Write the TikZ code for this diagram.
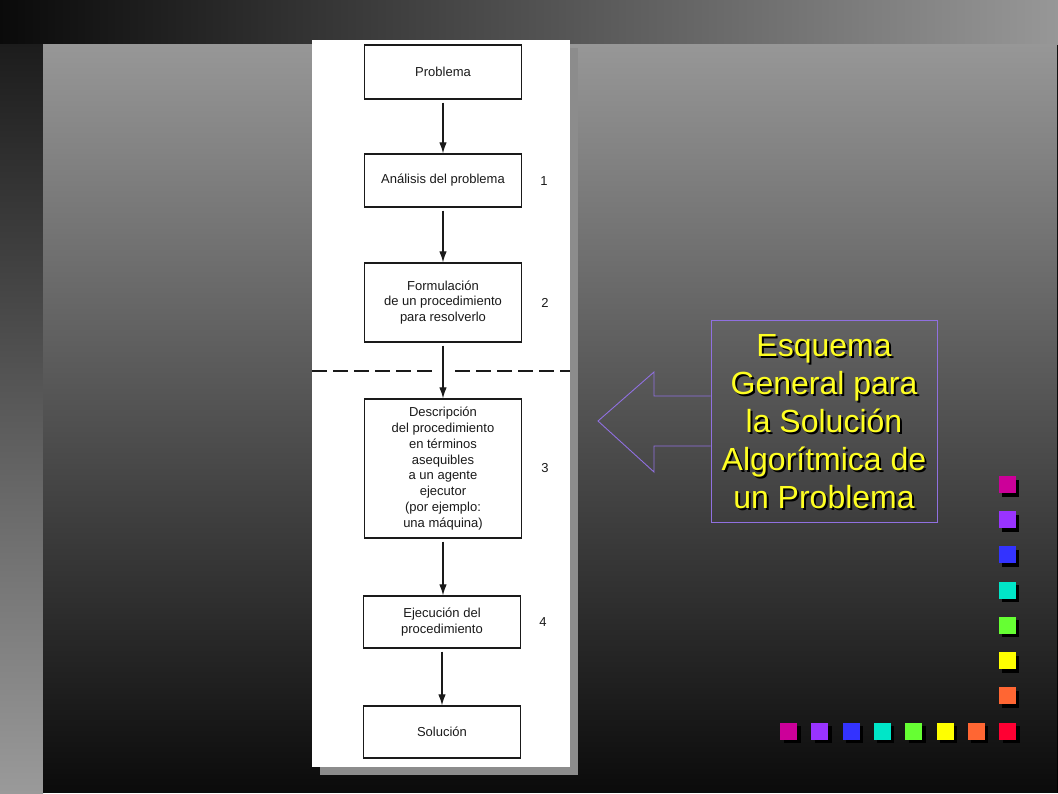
\documentclass[tikz,border=0pt]{standalone}
\usepackage{fontspec}
\setmainfont{Liberation Sans}
\usetikzlibrary{arrows.meta,shadows}
\definecolor{panelTop}{HTML}{979797}
\definecolor{panelBot}{HTML}{0B0B0B}
\definecolor{stripTop}{HTML}{1C1C1C}
\definecolor{stripBot}{HTML}{9A9A9A}
\definecolor{lav}{HTML}{9070E0}
\definecolor{ylw}{HTML}{FFFF22}
\definecolor{pshadow}{HTML}{8C8C8C}
\definecolor{ink}{HTML}{1A1A1A}
\definecolor{sqA}{HTML}{CC0099}
\definecolor{sqB}{HTML}{9933FF}
\definecolor{sqC}{HTML}{3333FF}
\definecolor{sqD}{HTML}{00E6C8}
\definecolor{sqE}{HTML}{66FF33}
\definecolor{sqF}{HTML}{FFFF00}
\definecolor{sqG}{HTML}{FF6633}
\definecolor{sqH}{HTML}{FF0033}
\begin{document}
\begin{tikzpicture}[x=1pt,y=-1pt,
  flowbox/.style={draw=ink, line width=1.3pt, fill=white, minimum width=157pt,
    inner sep=0pt, align=center, text=ink, font=\fontsize{13}{15.8}\selectfont},
  numlbl/.style={font=\fontsize{13}{15}\selectfont, text=ink, inner sep=0pt},
  arr/.style={draw=ink, line width=1.2pt, shorten <=3pt, -{Latex[length=11pt,width=7.5pt]}},
  dashline/.style={draw=ink, line width=1.4pt, dash pattern=on 15pt off 6pt},
  sqr/.style={minimum width=17pt, minimum height=17pt, inner sep=0pt,
    drop shadow={shadow xshift=3.5pt, shadow yshift=-3.5pt, fill=black, opacity=1}},
  titletxt/.style={align=center, inner sep=0pt, font=\fontsize{32}{38}\selectfont}
]
\useasboundingbox (0,0) rectangle (1058,793);
% background
\fill[black] (0,0) rectangle (1058,793);
\shade[left color=black!96, right color=panelTop] (0,0) rectangle (1058,44);
\shade[top color=stripTop, bottom color=stripBot] (0,44) rectangle (43,793);
\shade[top color=panelTop, bottom color=panelBot] (43,44) rectangle (1057,792);
% paper panel with shadow
\fill[pshadow] (320,48) rectangle (578,775);
\fill[white] (312,40) rectangle (570,767);
% flow chart
\node[flowbox, minimum height=54pt] (p0) at (443,72) {Problema};
\node[flowbox, minimum height=53pt] (p1) at (443,180.5) {Análisis del problema};
\node[flowbox, minimum height=79pt] (p2) at (443,302.5) {Formulación\\de un procedimiento\\para resolverlo};
\node[flowbox, minimum height=139pt] (p3) at (443,468.5) {Descripción\\del procedimiento\\en términos\\asequibles\\a un agente\\ejecutor\\(por ejemplo:\\una máquina)};
\node[flowbox, minimum height=52pt] (p4) at (442,622) {Ejecución del\\procedimiento};
\node[flowbox, minimum height=52pt] (p5) at (442,732) {Solución};
\node[numlbl] (n1) at (544,181) {1};
\node[numlbl] (n2) at (545,303) {2};
\node[numlbl] (n3) at (545,468) {3};
\node[numlbl] (n4) at (543,622) {4};
\draw[arr] (p0.south) -- (p0.south |- p1.north);
\draw[arr] (p1.south) -- (p1.south |- p2.north);
\draw[arr] (p2.south) -- (p2.south |- p3.north);
\draw[arr] (p3.south) -- (p3.south |- p4.north);
\draw[arr] (p4.south) -- (p4.south |- p5.north);
% dashed separator
\coordinate (dl) at (312,371);
\coordinate (g1) at (437,371);
\coordinate (g2) at (455,371);
\coordinate (dr) at (570,371);
\draw[dashline] (dl) -- (g1);
\draw[dashline] (g2) -- (dr);
% title box and block arrow
\node[draw=lav, line width=0.9pt, minimum width=226pt, minimum height=202pt, inner sep=0pt] (lbox) at (824,421) {};
\node[titletxt, text=black] (tshadow) at (826,424) {Esquema\\General para\\la Solución\\Algorítmica de\\un Problema};
\node[titletxt, text=ylw] (title) at (824,422) {Esquema\\General para\\la Solución\\Algorítmica de\\un Problema};
\draw[lav, line width=0.9pt, line join=miter] (lbox.west |- 0,396) -- (654,396) -- (654,372) -- (598,421) -- (654,472) -- (654,446) -- (lbox.west |- 0,446);
% coloured squares
\foreach \c [count=\i from 0] in {sqA,sqB,sqC,sqD,sqE,sqF,sqG} {
  \node[sqr, fill=\c] (v\i) at (1007, 484.5+35.2*\i) {};
}
\foreach \c [count=\i from 0] in {sqA,sqB,sqC,sqD,sqE,sqF,sqG,sqH} {
  \node[sqr, fill=\c] (h\i) at (788.5+31.3*\i, 731) {};
}
\end{tikzpicture}
\end{document}
